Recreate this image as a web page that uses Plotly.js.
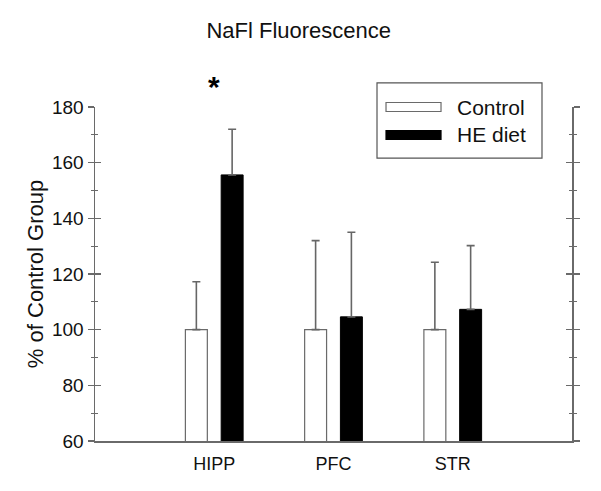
<!DOCTYPE html>
<html>
<head>
<meta charset="utf-8">
<script src="https://cdn.plot.ly/plotly-3.0.1.min.js"></script>
<style>html,body{margin:0;padding:0;background:#fff;}#chart{width:601px;height:491px;}</style>
</head>
<body>
<div id="chart"></div>
<script>
const categories = ['HIPP', 'PFC', 'STR'];
const seriesNames = ['Control', 'HE diet'];
const controlMean = [100, 100, 100];
const controlErr = [17.2, 32, 24.2];
const heMean = [155.6, 104.6, 107.3];
const heErr = [16.4, 30.4, 22.9];
const significant = ['HIPP'];
const yRange = [60, 180];

const xPos = categories.map((c, i) => i);
const axisColor = '#6a6a6a';
const font = 'Liberation Sans, Arial, sans-serif';

const traces = [
  {
    type: 'bar', name: seriesNames[0], x: xPos, y: controlMean,
    width: 0.184, offset: -0.242,
    marker: {color: '#ffffff', line: {color: '#6a6a6a', width: 1.2}},
    error_y: {type: 'data', symmetric: false, array: controlErr, arrayminus: controlErr.map(() => 0),
      color: '#666666', thickness: 1.6, width: 4},
    xaxis: 'x', yaxis: 'y', showlegend: false
  },
  {
    type: 'bar', name: seriesNames[1], x: xPos, y: heMean,
    width: 0.184, offset: 0.058,
    marker: {color: '#000000', line: {color: '#000000', width: 1}},
    error_y: {type: 'data', symmetric: false, array: heErr, arrayminus: heErr.map(() => 0),
      color: '#666666', thickness: 1.6, width: 4},
    xaxis: 'x', yaxis: 'y2', showlegend: false
  }
];

const yCommon = {
  range: yRange, dtick: 20, tick0: 0, showgrid: false, zeroline: false,
  ticklen: 6, tickwidth: 1.4, tickcolor: axisColor,
  minor: {dtick: 10, ticklen: 3, tickwidth: 1.2, tickcolor: axisColor},
  fixedrange: true
};
const insideMinor = Object.assign({}, yCommon.minor, {ticks: 'inside'});

const layout = {
  width: 601, height: 491,
  margin: {l: 95, r: 29, t: 107, b: 50},
  paper_bgcolor: '#ffffff', plot_bgcolor: '#ffffff',
  barmode: 'overlay',
  font: {family: font, color: '#111111'},
  title: {text: 'NaFl Fluorescence', font: {size: 22, family: font, color: '#111'},
    xref: 'container', x: 0.497, xanchor: 'center', yref: 'container', y: 0.938, yanchor: 'middle'},
  xaxis: {
    range: [-1, 3], tickvals: xPos, ticktext: categories, ticks: '',
    showline: true, linecolor: axisColor, linewidth: 1.5, showgrid: false, zeroline: false,
    tickfont: {size: 18, family: font, color: '#111'}, ticklabelstandoff: 6
  },
  yaxis: Object.assign({}, yCommon, {
    ticks: 'outside', minor: Object.assign({}, yCommon.minor, {ticks: 'outside'}),
    mirror: 'ticks',
    showline: true, linecolor: axisColor, linewidth: 1.5,
    tickfont: {size: 19, family: font, color: '#111'},
    title: {text: '% of Control Group', font: {size: 22, family: font, color: '#111'}, standoff: 2}
  }),
  yaxis2: Object.assign({}, yCommon, {
    overlaying: 'y', anchor: 'x', side: 'right', mirror: 'ticks',
    ticks: 'inside', minor: insideMinor,
    showline: false, showticklabels: false
  }),
  yaxis3: Object.assign({}, yCommon, {
    overlaying: 'y', anchor: 'free', position: 0, side: 'left',
    ticks: 'inside', minor: insideMinor,
    showline: false, showticklabels: false
  }),
  shapes: [],
  annotations: []
};

// significance marker
significant.forEach(c => {
  layout.annotations.push({
    x: categories.indexOf(c), y: 1.06, xref: 'x', yref: 'paper', text: '<b>*</b>', showarrow: false,
    font: {size: 30, family: font, color: '#000'}, xanchor: 'center', yanchor: 'middle'
  });
});

// custom legend box
layout.shapes.push({type: 'rect', xref: 'paper', yref: 'paper', x0: 0.5912, x1: 0.9371, y0: 0.847, y1: 1.072,
  line: {color: '#555', width: 1.2}, fillcolor: 'rgba(0,0,0,0)'});
const legendFills = ['#ffffff', '#000000'];
const legendLines = ['#6a6a6a', '#000000'];
const legendY = [1.0, 0.9162];
seriesNames.forEach((n, i) => {
  layout.shapes.push({type: 'rect', xref: 'paper', yref: 'paper', x0: 0.6101, x1: 0.7254,
    y0: legendY[i] - 0.0135, y1: legendY[i] + 0.0135,
    line: {color: legendLines[i], width: 1.2}, fillcolor: legendFills[i]});
  layout.annotations.push({xref: 'paper', yref: 'paper', x: 0.7547, y: legendY[i], text: n,
    showarrow: false, xanchor: 'left', yanchor: 'middle', font: {size: 21, family: font, color: '#111'}});
});

Plotly.newPlot('chart', traces, layout, {staticPlot: true, displayModeBar: false});
</script>
</body>
</html>
